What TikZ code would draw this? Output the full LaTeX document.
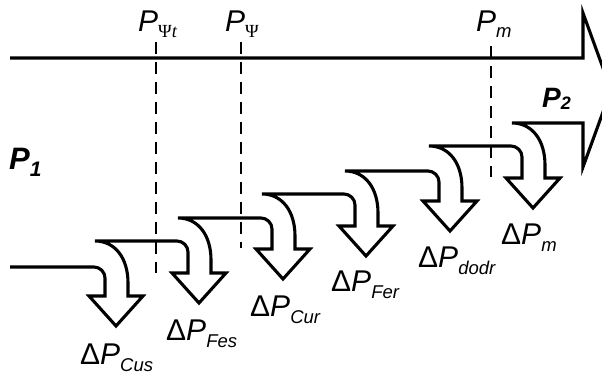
\documentclass[tikz,border=0pt]{standalone}
\usepackage{fontspec}
\setmainfont{Liberation Sans}
\newfontfamily\psifont{Liberation Serif}

\tikzset{
  flow/.style={line width=3.1pt, line join=miter},
  marker/.style={line width=2.3pt, dash pattern=on 12pt off 8pt},
  lbl/.style={inner sep=0pt, anchor=base west, font=\fontsize{30}{30}\selectfont},
  biglbl/.style={inner sep=0pt, anchor=base west, font=\fontsize{31}{31}\selectfont\bfseries\itshape},
}
% lowered small index after a symbol
\newcommand\lowsub[2][6pt]{\raisebox{-#1}{\fontsize{18.5}{18.5}\selectfont #2}}

\begin{document}
\begin{tikzpicture}[x=1pt,y=-1pt]
\useasboundingbox (0,0) rectangle (602,376);
\clip (0,0) rectangle (602,376);

% vertical dashed markers
\coordinate (psitTop) at (156,42);  \coordinate (psitBot) at (156,273);
\coordinate (psiTop)  at (241,42);  \coordinate (psiBot)  at (241,248);
\coordinate (mTop)    at (491,46);  \coordinate (mBot)    at (491,177);
\draw[marker] (psitTop) -- (psitBot);
\draw[marker] (psiTop) -- (psiBot);
\draw[marker] (mTop) -- (mBot);

% outline of the flow: stepped lower edge with loss arrows, then the output arrow
\draw[flow] (10,267)
  \foreach \xL/\y/\yb/\yn in {105/267/296/241, 188/241/273/218, 272/218/249/194,
                              355/194/226/171, 439/171/201/146, 522/146/178/123}
  { -- (\xL-11,\y) .. controls (\xL-5,\y) and (\xL,\y+5) .. (\xL,\y+11)
    -- (\xL,\yb) -- (\xL-16,\yb) -- (\xL+11,\yb+30) -- (\xL+38,\yb)
    -- (\xL+23,\yb) -- (\xL+23,\yn+42)
    .. controls (\xL+23,\yn+17) and (\xL+10,\yn) .. (\xL-10,\yn) }
  -- (583,123) -- (583,167) -- (611,90) -- (583,13) -- (583,58) -- (10,58);

% point labels on the top edge
\node[lbl] (lPsit) at (138,31) {\textit{P}\lowsub{\psifont Ψ\textit{t}}};
\node[lbl] (lPsi)  at (225,31) {\textit{P}\lowsub{\psifont Ψ}};
\node[lbl] (lPm)   at (476,31) {\textit{P}\lowsub{\textit{m}}};

% input and output power
\node[biglbl] (lP1) at (9,169) {P\raisebox{-7pt}{\fontsize{21}{21}\selectfont 1}};
\node[biglbl, font=\fontsize{28}{28}\selectfont\bfseries\itshape] (lP2) at (542,107)
  {P\raisebox{-2pt}{\fontsize{18}{18}\selectfont 2}};

% loss labels
\node[lbl] (lCus)  at (80,364)  {Δ\textit{P}\lowsub[7pt]{\textit{Cus}}};
\node[lbl] (lFes)  at (166,340) {Δ\textit{P}\lowsub[7pt]{\textit{Fes}}};
\node[lbl] (lCur)  at (250,316) {Δ\textit{P}\lowsub[7pt]{\textit{Cur}}};
\node[lbl] (lFer)  at (331,291) {Δ\textit{P}\lowsub[7pt]{\textit{Fer}}};
\node[lbl] (ldodr) at (418,267) {Δ\textit{P}\lowsub[7pt]{\textit{dodr}}};
\node[lbl] (lm)    at (501,244) {Δ\textit{P}\lowsub[7pt]{\textit{m}}};
\end{tikzpicture}
\end{document}
